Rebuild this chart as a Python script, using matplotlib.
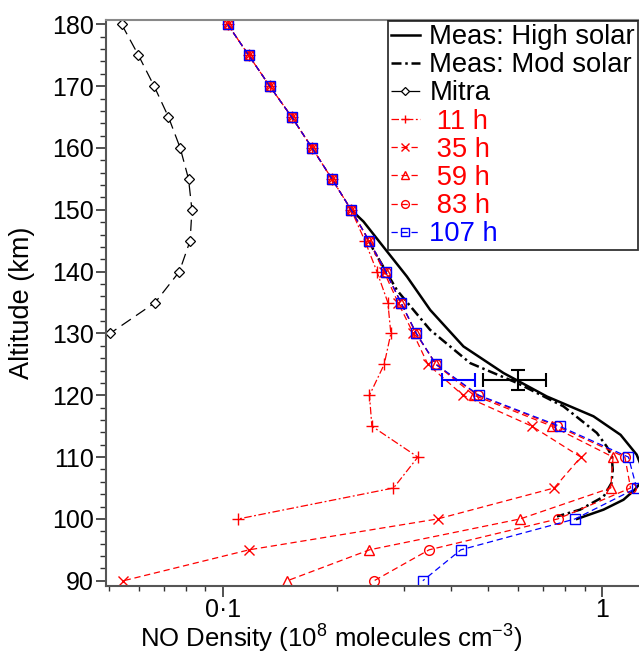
import numpy as np
import matplotlib
matplotlib.use("Agg")
import matplotlib.pyplot as plt
from matplotlib.ticker import FixedLocator, NullFormatter

plt.rcParams['font.family'] = ['Liberation Sans', 'DejaVu Sans']
plt.rcParams['mathtext.fontset'] = 'custom'
plt.rcParams['mathtext.rm'] = 'Liberation Sans'

# altitude grid of the model runs (km)
alt = [180, 175, 170, 165, 160, 155, 150, 145, 140, 135, 130,
       125, 120, 115, 110, 105, 100, 95, 90]

# model NO density, 1e8 cm^-3
top = [0.103, 0.117, 0.133, 0.152, 0.172, 0.194, 0.218]
run_11h = top + [0.237, 0.255, 0.2725, 0.2775, 0.2665, 0.2437, 0.2473, 0.327, 0.282, 0.110]
run_35h = top + [0.243, 0.266, 0.290, 0.318, 0.3475, 0.430, 0.6535, 0.880, 0.748, 0.369, 0.1173, 0.0547]
run_59h = top + [0.243, 0.269, 0.295, 0.323, 0.365, 0.460, 0.738, 1.070, 1.055, 0.609, 0.2437, 0.148]
run_83h = top + [0.243, 0.269, 0.295, 0.324, 0.365, 0.470, 0.760, 1.150, 1.190, 0.765, 0.350, 0.2507]
run_107h = top + [0.243, 0.269, 0.295, 0.324, 0.365, 0.474, 0.773, 1.175, 1.235, 0.850, 0.4246, 0.337]

# Mitra profile
mitra_alt = [180, 175, 170, 165, 160, 155, 150, 145, 140, 135, 130]
mitra = [0.0541, 0.0599, 0.0659, 0.0719, 0.0772, 0.0812, 0.0829, 0.0820, 0.0768, 0.0663, 0.0504]

# measured profiles
high_alt = [150, 148.1, 144.0, 139.2, 133.8, 127.9, 123.6, 119.8, 116.6, 113.6, 110.4, 108.0, 106.0, 104.7, 103.1, 101.5, 100.0]
high_no = [0.218, 0.235, 0.2653, 0.306, 0.3524, 0.4313, 0.550, 0.716, 0.950, 1.12, 1.235, 1.28, 1.27, 1.22, 1.14, 1.01, 0.86]
mod_alt = [145, 143.5, 137.0, 130.6, 125.2, 122.0, 118.2, 115.5, 113.9, 111.7, 110.1, 107.9, 105.8, 103.6, 101.5, 100.4]
mod_no = [0.243, 0.2497, 0.288, 0.352, 0.4494, 0.597, 0.792, 0.90, 0.970, 1.03, 1.062, 1.068, 1.060, 1.010, 0.876, 0.761]

# error bars at 122.5 km
err_alt = 122.5
meas_x, meas_xlo, meas_xhi, meas_yerr = 0.60, 0.113, 0.114, 1.6
mdl_x, mdl_xerr = 0.42, 0.042

fig = plt.figure(figsize=(6.39, 6.58), dpi=100)
ax = fig.add_axes([0.1654, 0.1099, 0.8361, 0.8597])

ax.plot(high_no, high_alt, color='black', lw=1.8, label='Meas: High solar')
ax.plot(mod_no, mod_alt, color='black', lw=1.8, ls=(0, (4, 1.5, 1, 1.5)), label='Meas: Mod solar')
ax.plot(mitra, mitra_alt, color='black', lw=0.9, ls=(0, (9, 5)), marker='D', ms=5,
        mfc='white', mec='black', mew=0.9, label='Mitra')

red = '#ff0000'
blue = '#0000ff'
ax.plot(run_11h, alt[:len(run_11h)], color=red, lw=0.9, ls=(0, (6, 2, 1.5, 2)), marker='+', ms=8, mew=1, label=' 11 h')
ax.plot(run_35h, alt, color=red, lw=0.9, ls=(0, (5, 3)), marker='x', ms=7, mew=1, label=' 35 h')
ax.plot(run_59h, alt, color=red, lw=0.9, ls=(0, (5, 3)), marker='^', ms=7, mfc='none', mew=1, label=' 59 h')
ax.plot(run_83h, alt, color=red, lw=0.9, ls=(0, (5, 3)), marker='o', ms=7, mfc='none', mew=1, label=' 83 h')
ax.plot(run_107h, alt, color=blue, lw=0.9, ls=(0, (5, 3)), marker='s', ms=7, mfc='none', mew=1, label='107 h')

ax.errorbar(meas_x, err_alt, xerr=[[meas_xlo], [meas_xhi]], yerr=meas_yerr, fmt='none',
            ecolor='black', elinewidth=1.5, capsize=5, capthick=1.5)
ax.errorbar(mdl_x, err_alt, xerr=mdl_xerr, fmt='none', ecolor=blue, elinewidth=1.5, capsize=5, capthick=1.5)

ax.set_xscale('log')
ax.set_xlim(0.0491, 1.26)
ax.set_ylim(89.2, 180.7)

ax.xaxis.set_major_locator(FixedLocator([0.1, 1]))
ax.set_xticklabels(['0·1', '1'])
ax.xaxis.set_minor_locator(FixedLocator([0.05, 0.06, 0.07, 0.08, 0.09, 0.2, 0.3, 0.4, 0.5, 0.6, 0.7, 0.8, 0.9]))
ax.xaxis.set_minor_formatter(NullFormatter())
ax.yaxis.set_major_locator(FixedLocator(np.arange(90, 181, 10)))
ax.yaxis.set_minor_locator(FixedLocator(np.arange(90, 181, 2)))

ax.tick_params(which='major', direction='out', length=7.2, width=1.2, labelsize=18, pad=1.5, color='#333333')
ax.tick_params(which='minor', direction='out', length=4.3, width=1.0, color='#333333')
ax.tick_params(axis='x', which='major', length=8, pad=1)
ax.tick_params(axis='x', which='minor', length=3.3)

for s in ['left', 'bottom']:
    ax.spines[s].set_color('#555555')
    ax.spines[s].set_linewidth(1.5)
ax.spines['top'].set_color('#888888')
ax.spines['top'].set_linewidth(1.5)
ax.spines['right'].set_visible(False)

ax.set_ylabel('Altitude (km)', fontsize=19.5)
ax.yaxis.set_label_coords(-0.1326, 0.5)
ax.set_xlabel(r'NO Density (10$^{\mathregular{8}}$ molecules cm$^{\mathregular{-3}}$)', fontsize=18.5)
ax.xaxis.set_label_coords(0.4225, -0.0624)

leg = ax.legend(loc='upper right', bbox_to_anchor=(0.9985, 1.0), fontsize=19.7, frameon=True, fancybox=False,
                borderaxespad=0.05, borderpad=0.1, labelspacing=0.08, handlelength=1.05,
                handletextpad=0.35, markerscale=0.8)
leg.get_frame().set_edgecolor('black')
leg.get_frame().set_linewidth(1.3)
leg_colors = ['black', 'black', 'black', red, red, red, red, blue]
for t, c in zip(leg.get_texts(), leg_colors):
    t.set_color(c)

fig.savefig('out.png', dpi=100)
